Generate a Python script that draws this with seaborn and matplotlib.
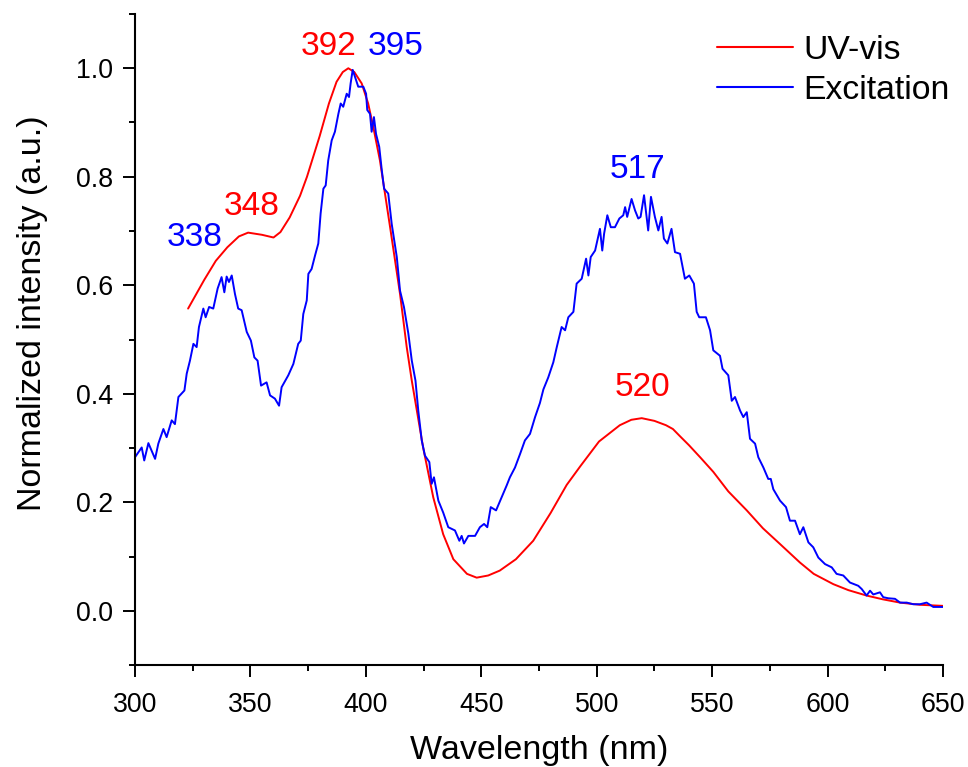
import numpy as np
import pandas as pd
import matplotlib
matplotlib.use("Agg")
import matplotlib.pyplot as plt
from matplotlib.ticker import MultipleLocator
import seaborn as sns

# ---- data ----
uv_x = [323, 330, 335, 340, 345, 349, 355, 360, 363, 367, 371.5, 374.5, 380, 384,
        387.3, 390, 392.4, 395, 398.2, 401, 403.2, 406.1, 410.5, 414.8, 417.7, 419.9,
        424.8, 429.2, 433.5, 437.9, 443.8, 448, 453, 458, 465, 472.5, 480, 487, 493,
        501, 510, 515, 519.5, 525, 530, 533, 536, 540, 545, 550.5, 557, 565, 572,
        579.4, 588, 594, 602.5, 609, 616.9, 624, 631.4, 640, 650]
uv_y = [0.557, 0.61, 0.645, 0.67, 0.69, 0.697, 0.693, 0.688, 0.698, 0.725, 0.765, 0.80,
        0.875, 0.935, 0.975, 0.993, 1.0, 0.993, 0.972, 0.935, 0.892, 0.830, 0.707, 0.584,
        0.486, 0.424, 0.301, 0.209, 0.141, 0.095, 0.068, 0.061, 0.065, 0.074, 0.095,
        0.129, 0.18, 0.232, 0.267, 0.312, 0.342, 0.352, 0.355, 0.35, 0.342, 0.335, 0.322,
        0.305, 0.282, 0.256, 0.22, 0.185, 0.152, 0.123, 0.089, 0.068, 0.049, 0.038,
        0.028, 0.021, 0.015, 0.011, 0.009]

ex_x = [300.0, 302.9, 304.0, 305.8, 308.7, 310.1, 312.3, 313.7, 315.9, 317.3, 318.8,
        321.4, 322.4, 323.8, 325.3, 326.7, 327.7, 329.6, 330.6, 332.1, 333.9, 335.8,
        337.5, 338.7, 339.7, 340.7, 341.9, 343.3, 344.7, 346.2, 348.4, 350.2, 351.7,
        353.1, 354.6, 357.0, 358.5, 360.6, 362.4, 363.5, 366.4, 368.6, 370.7, 371.8,
        372.9, 374.4, 375.1, 376.5, 378.0, 379.4, 380.4, 381.6, 382.6, 383.7, 385.2,
        386.6, 388.1, 389.1, 390.2, 391.7, 392.7, 393.4, 394.3, 395.3, 396.7, 398.9,
        400.1, 400.6, 401.8, 402.5, 403.5, 404.4, 405.8, 406.9, 407.9, 409.7, 411.2,
        413.4, 414.8, 416.5, 418.4, 419.9, 421.5, 422.7, 424.2, 425.6, 427.5, 428.5,
        429.5, 431.4, 433.5, 435.7, 438.6, 440.5, 441.5, 442.5, 444.4, 447.3, 449.4,
        451.2, 452.6, 454.1, 456.4, 458.8, 461.0, 462.4, 464.6, 466.8, 468.9, 471.1,
        473.3, 475.4, 476.9, 479.0, 481.2, 482.7, 484.8, 486.3, 487.7, 489.9, 491.3,
        493.5, 495.4, 496.4, 497.4, 499.3, 501.4, 502.4, 503.2, 504.6, 506.1, 507.9,
        509.8, 511.5, 512.3, 513.2, 515.1, 516.6, 518.0, 519.0, 520.5, 522.3, 523.5,
        525.2, 526.7, 528.1, 529.1, 530.6, 532.4, 533.9, 536.1, 538.2, 540.1, 542.1,
        543.3, 544.4, 547.3, 549.1, 550.5, 553.4, 554.5, 557.0, 558.5, 559.9, 562.1,
        563.5, 565.0, 566.4, 568.6, 570.0, 572.2, 574.3, 575.4, 576.5, 579.4, 582.0,
        583.7, 585.9, 588.0, 589.5, 591.7, 593.8, 596.0, 598.9, 601.8, 603.9, 606.8,
        609.7, 613.3, 614.8, 616.9, 618.4, 619.8, 622.7, 624.1, 626.3, 629.2, 631.4,
        634.3, 637.1, 640.0, 642.9, 645.8, 650.0]
ex_y = [0.283, 0.301, 0.277, 0.309, 0.280, 0.308, 0.335, 0.320, 0.351, 0.344, 0.394,
        0.406, 0.437, 0.461, 0.492, 0.486, 0.523, 0.557, 0.541, 0.560, 0.557, 0.594,
        0.615, 0.587, 0.616, 0.606, 0.618, 0.584, 0.557, 0.554, 0.514, 0.498, 0.467,
        0.461, 0.415, 0.421, 0.397, 0.391, 0.378, 0.412, 0.434, 0.455, 0.492, 0.498,
        0.547, 0.572, 0.621, 0.630, 0.655, 0.677, 0.732, 0.778, 0.784, 0.830, 0.867,
        0.883, 0.916, 0.935, 0.929, 0.953, 0.947, 0.972, 0.997, 0.984, 0.966, 0.966,
        0.953, 0.923, 0.916, 0.883, 0.910, 0.879, 0.855, 0.812, 0.778, 0.769, 0.713,
        0.652, 0.590, 0.560, 0.511, 0.461, 0.424, 0.369, 0.314, 0.286, 0.274, 0.234,
        0.246, 0.203, 0.181, 0.154, 0.148, 0.129, 0.138, 0.124, 0.138, 0.138, 0.154,
        0.160, 0.154, 0.191, 0.185, 0.209, 0.231, 0.246, 0.264, 0.289, 0.314, 0.326,
        0.357, 0.383, 0.408, 0.430, 0.458, 0.486, 0.523, 0.517, 0.541, 0.551, 0.603,
        0.612, 0.649, 0.618, 0.652, 0.664, 0.704, 0.664, 0.695, 0.729, 0.707, 0.707,
        0.723, 0.729, 0.744, 0.726, 0.759, 0.738, 0.723, 0.726, 0.766, 0.701, 0.763,
        0.726, 0.701, 0.726, 0.686, 0.677, 0.704, 0.661, 0.658, 0.612, 0.618, 0.603,
        0.551, 0.541, 0.541, 0.517, 0.480, 0.470, 0.446, 0.434, 0.387, 0.394, 0.369,
        0.357, 0.366, 0.317, 0.308, 0.283, 0.264, 0.243, 0.243, 0.224, 0.203, 0.191,
        0.166, 0.166, 0.141, 0.154, 0.126, 0.117, 0.098, 0.086, 0.080, 0.068, 0.065,
        0.052, 0.046, 0.040, 0.028, 0.037, 0.030, 0.034, 0.025, 0.023, 0.022, 0.015,
        0.015, 0.012, 0.012, 0.015, 0.007, 0.007]

series_names = ["UV-vis", "Excitation"]
series_colors = ["#FF0000", "#0000FF"]

peak_labels = ["392", "395", "348", "338", "517", "520"]
peak_x = [383.7, 413.0, 350.5, 326.0, 517.5, 519.8]
peak_y = [1.040, 1.040, 0.746, 0.688, 0.813, 0.411]
peak_colors = ["#FF0000", "#0000FF", "#FF0000", "#0000FF", "#0000FF", "#FF0000"]

df = pd.concat([
    pd.DataFrame({"Wavelength": uv_x, "Intensity": uv_y, "Series": series_names[0]}),
    pd.DataFrame({"Wavelength": ex_x, "Intensity": ex_y, "Series": series_names[1]}),
], ignore_index=True)

sns.set_style("ticks")
plt.rcParams["font.family"] = ["Liberation Sans", "DejaVu Sans"]
plt.rcParams["text.color"] = "black"
plt.rcParams["axes.labelcolor"] = "black"

fig = plt.figure(figsize=(9.68, 7.67), dpi=100)
ax = fig.add_axes([135 / 968, 1 - 665 / 767, (943 - 135) / 968, (665 - 14) / 767])

sns.lineplot(data=df, x="Wavelength", y="Intensity", hue="Series",
             palette=dict(zip(series_names, series_colors)),
             estimator=None, sort=False, linewidth=1.4, ax=ax)

ax.set_xlim(300, 650)
ax.set_ylim(-0.1, 1.1)
ax.xaxis.set_major_locator(MultipleLocator(50))
ax.xaxis.set_minor_locator(MultipleLocator(25))
ax.yaxis.set_major_locator(MultipleLocator(0.2))
ax.yaxis.set_minor_locator(MultipleLocator(0.1))
ax.set_yticks([0.0, 0.2, 0.4, 0.6, 0.8, 1.0])
ax.set_yticklabels(["0.0", "0.2", "0.4", "0.6", "0.8", "1.0"])

for s in ["top", "right"]:
    ax.spines[s].set_visible(False)
for s in ["left", "bottom"]:
    ax.spines[s].set_linewidth(1.5)
    ax.spines[s].set_color("black")

ax.tick_params(which="major", direction="out", length=8.5, width=1.4,
               labelsize=19.3, pad=7, colors="black")
ax.tick_params(axis="x", which="major", pad=11)
ax.tick_params(which="minor", direction="out", length=4.3, width=1.4, colors="black")

ax.set_xlabel("Wavelength (nm)", fontsize=24.5, labelpad=12)
ax.set_ylabel("Normalized intensity (a.u.)", fontsize=24.5)
ax.yaxis.set_label_coords(-0.108, 0.541)

for lab, xx, yy, cc in zip(peak_labels, peak_x, peak_y, peak_colors):
    ax.text(xx, yy, lab, color=cc, fontsize=24, ha="center", va="center")

leg = ax.legend(loc="upper left", bbox_to_anchor=(717 / 968, 1 - 35 / 767),
                bbox_transform=fig.transFigure, frameon=False, fontsize=24.3,
                handlelength=2.25, handletextpad=0.3, labelspacing=0.27,
                borderpad=0, borderaxespad=0)
for line in leg.get_lines():
    line.set_linewidth(1.5)
for t in leg.get_texts():
    t.set_color("black")

fig.savefig("out.png", dpi=100)
